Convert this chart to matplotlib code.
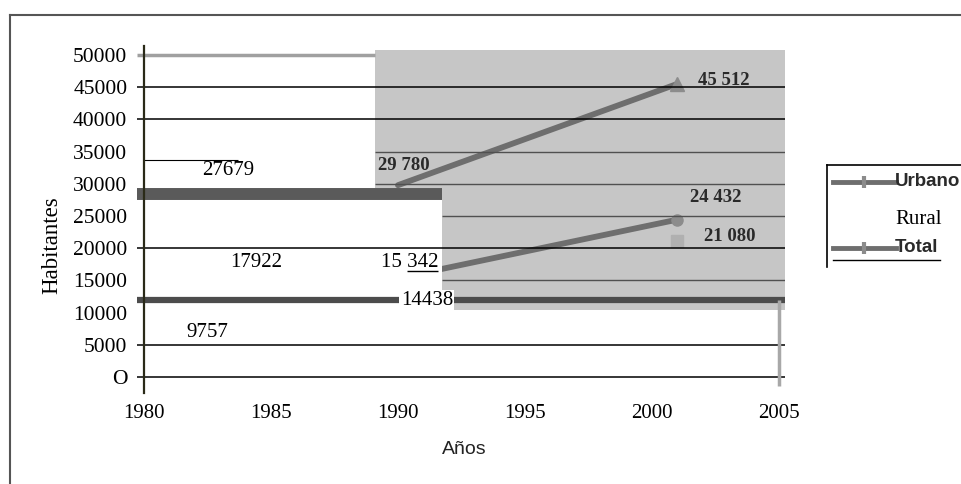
import matplotlib
matplotlib.use("Agg")
import matplotlib.pyplot as plt
from matplotlib.lines import Line2D
from matplotlib.patches import Polygon, Rectangle

plt.rcParams["font.family"] = ["Liberation Serif", "DejaVu Serif"]

# census years and population (habitantes)
years = [1990, 2001]
total = [29780, 45512]
urbano = [15342, 24432]
rural_2001 = 21080

labels_1981 = ["27679", "17922", "9757"]
y_ticks = [0, 5000, 10000, 15000, 20000, 25000, 30000, 35000, 40000, 45000, 50000]
y_ticklabels = ["O", "5000", "10000", "15000", "20000", "25000", "30000",
                "35000", "40000", "45000", "50000"]
x_ticks = [1980, 1985, 1990, 1995, 2000, 2005]

W, H = 962, 484
fig = plt.figure(figsize=(W / 100, H / 100), dpi=100)
ax = fig.add_axes([144 / W, (H - 393) / H, (785 - 144) / W, (393 - 46) / H])
ax.set_xlim(1980, 2005.24)
ax.set_ylim(-2500, 51400)

for s in ["top", "right", "bottom"]:
    ax.spines[s].set_visible(False)
ax.spines["left"].set_color("#2a2a18")
ax.spines["left"].set_linewidth(1.6)
ax.spines["left"].set_zorder(6)

ax.set_yticks(y_ticks)
ax.set_yticklabels(y_ticklabels)
ax.set_xticks(x_ticks)
ax.tick_params(axis="y", length=0, pad=12, labelsize=15.5)
ax.tick_params(axis="x", length=0, pad=8, labelsize=15)

# grey scanned panel
ax.add_patch(Polygon([(1989.1, 50800), (2005.24, 50800), (2005.24, 10400),
                      (1991.73, 10400), (1991.73, 29300), (1989.1, 29300)],
                     closed=True, facecolor="#c6c6c6", edgecolor="none", zorder=1))

# series lines
ax.plot(years, total, color="#6e6e6e", lw=4.2, solid_capstyle="round", zorder=2)
ax.plot(years[1], total[1], marker="^", ms=10, color="#8c8c8c", zorder=2)
ax.plot(years, urbano, color="#6e6e6e", lw=4.2, solid_capstyle="round", zorder=2)
ax.plot(years[1], urbano[1], marker="o", ms=8, color="#8c8c8c", zorder=2)
ax.plot(years[1], rural_2001, marker="s", ms=9, color="#b0b0b0", zorder=2)

# white box over the lower-left part
ax.add_patch(Rectangle((1980, 12400), 11.73, 15100, facecolor="white",
                       edgecolor="none", zorder=3))

xl = 1979.72
ax.hlines(50000, xl, 1989.1, color="#a0a0a0", lw=2.5, zorder=4, clip_on=False)
for v in [45000, 40000, 20000, 5000, 0]:
    ax.hlines(v, xl, 2005.24, color="black", lw=1.1, zorder=4, clip_on=False)
for v in [35000, 30000]:
    ax.hlines(v, 1989.1, 2005.24, color="#505050", lw=1.0, zorder=4)
for v in [25000, 15000]:
    ax.hlines(v, 1991.73, 2005.24, color="#505050", lw=1.0, zorder=4)
ax.hlines(33700, 1980, 1983.7, color="black", lw=0.8, zorder=4)

# thick dark bars
ax.hlines(28400, xl, 1991.73, color="#5a5a5a", lw=8.6, zorder=5, clip_on=False)
ax.hlines(12000, xl, 2005.24, color="#4c4c4c", lw=4.5, zorder=5, clip_on=False)
ax.vlines(2005.0, -1400, 12000, color="#a8a8a8", lw=2.5, zorder=5)

# value labels
ax.text(1983.3, 32100, labels_1981[0], ha="center", va="center", fontsize=15, zorder=7)
ax.text(1984.4, 17700, labels_1981[1], ha="center", va="center", fontsize=15, zorder=7)
ax.text(1982.5, 6830, labels_1981[2], ha="center", va="center", fontsize=15, zorder=7)
ax.text(1990.47, 17700, "15 342", ha="center", va="center", fontsize=15, zorder=7)
ax.hlines(16400, 1990.35, 1991.57, color="black", lw=1.0, zorder=7)
ax.text(1991.14, 11800, "14438", ha="center", va="center", fontsize=15, zorder=7,
        bbox=dict(facecolor="white", edgecolor="none", pad=1))
bold = dict(ha="center", va="center", fontsize=13.5, fontweight="bold", color="#2a2a2a", zorder=7)
ax.text(1990.24, 32900, f"{total[0]:,}".replace(",", " "), **bold)
ax.text(2002.83, 46100, f"{total[1]:,}".replace(",", " "), **bold)
ax.text(2002.5, 27800, f"{urbano[1]:,}".replace(",", " "), **bold)
ax.text(2003.07, 21740, f"{rural_2001:,}".replace(",", " "), **bold)

# axis titles
fig.text(52 / W, 1 - 245 / H, "Habitantes", rotation=90, ha="center", va="center",
         fontsize=16.5)
fig.text(464 / W, 1 - 450 / H, "Años", ha="center", va="center", fontsize=14,
         family="Liberation Sans", color="#222222")

# outer frame
fig.add_artist(Line2D([10 / W, 1], [1 - 15 / H, 1 - 15 / H], color="#555555", lw=1.5))
fig.add_artist(Line2D([10 / W, 10 / W], [1 - 15 / H, 0], color="#555555", lw=1.5))

# legend drawn by hand
fig.add_artist(Line2D([827 / W, 1], [1 - 165 / H, 1 - 165 / H], color="black", lw=1.2))
fig.add_artist(Line2D([827 / W, 827 / W], [1 - 165 / H, 1 - 267 / H], color="black", lw=1.2))
for yy in [182, 248]:
    fig.add_artist(Line2D([833 / W, 896 / W], [1 - yy / H, 1 - yy / H],
                          color="#6e6e6e", lw=3.5))
    fig.add_artist(Line2D([864 / W], [1 - yy / H], marker="|", ms=9, mew=3,
                          color="#8c8c8c"))
fig.text(895 / W, 1 - 182 / H, "Urbano", ha="left", va="center", fontsize=13.5,
         fontweight="bold", family="Liberation Sans", color="#2a2a2a")
fig.text(895 / W, 1 - 220 / H, "Rural", ha="left", va="center", fontsize=15)
fig.text(895 / W, 1 - 248 / H, "Total", ha="left", va="center", fontsize=13.5,
         fontweight="bold", family="Liberation Sans", color="#2a2a2a")
fig.add_artist(Line2D([833 / W, 940 / W], [1 - 260 / H, 1 - 260 / H], color="black", lw=1))

fig.savefig("out.png", dpi=100)
